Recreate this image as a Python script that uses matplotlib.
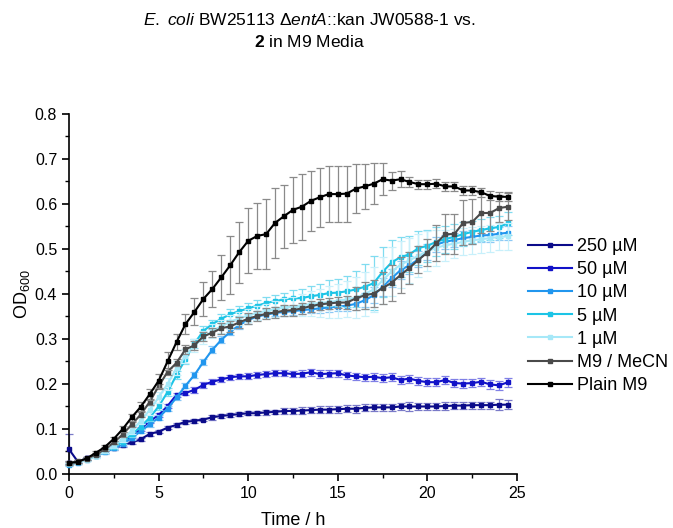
import numpy as np
import matplotlib
matplotlib.use('Agg')
import matplotlib.pyplot as plt
from matplotlib.ticker import MultipleLocator

plt.rcParams['font.family'] = ['Liberation Sans', 'DejaVu Sans']
plt.rcParams['mathtext.fontset'] = 'custom'
plt.rcParams['mathtext.rm'] = 'Liberation Sans'
plt.rcParams['mathtext.it'] = 'Liberation Sans:italic'
plt.rcParams['mathtext.bf'] = 'Liberation Sans:bold'

# time points (h)
time = np.arange(0, 24.51, 0.5)

labels = ['250 µM', '50 µM', '10 µM', '5 µM', '1 µM', 'M9 / MeCN', 'Plain M9']
colors = ['#0b0b8a', '#1212c8', '#2196ee', '#1cc4e6', '#a6e8f8', '#4a4a4a', '#000000']
err_colors = ['#7a7ac8', '#8080e6', '#8cc8f5', '#80dcf0', '#c8f0fb', '#8a8a8a', '#8a8a8a']

od_250 = [0.055, 0.027, 0.035, 0.042, 0.050, 0.057, 0.064, 0.070, 0.077, 0.089,
          0.094, 0.103, 0.109, 0.116, 0.118, 0.121, 0.126, 0.129, 0.131, 0.133,
          0.135, 0.135, 0.137, 0.138, 0.140, 0.140, 0.141, 0.142, 0.143, 0.143,
          0.144, 0.145, 0.145, 0.147, 0.148, 0.148, 0.148, 0.150, 0.150, 0.150,
          0.150, 0.150, 0.151, 0.152, 0.152, 0.153, 0.153, 0.153, 0.154, 0.154]
err_250 = [0.033, 0.004, 0.003, 0.003, 0.003, 0.003, 0.003, 0.003, 0.004, 0.004,
           0.004, 0.004, 0.004, 0.004, 0.004, 0.004, 0.005, 0.005, 0.005, 0.005,
           0.005, 0.005, 0.005, 0.005, 0.006, 0.006, 0.007, 0.007, 0.007, 0.008,
           0.008, 0.008, 0.009, 0.008, 0.008, 0.008, 0.008, 0.008, 0.009, 0.008,
           0.008, 0.008, 0.008, 0.008, 0.008, 0.008, 0.008, 0.008, 0.012, 0.010]

od_50 = [0.025, 0.027, 0.035, 0.042, 0.050, 0.060, 0.070, 0.085, 0.100, 0.117,
         0.131, 0.151, 0.176, 0.180, 0.187, 0.198, 0.205, 0.210, 0.215, 0.217,
         0.217, 0.220, 0.222, 0.224, 0.224, 0.222, 0.223, 0.226, 0.222, 0.223,
         0.224, 0.219, 0.217, 0.215, 0.216, 0.213, 0.215, 0.209, 0.212, 0.207,
         0.204, 0.204, 0.209, 0.202, 0.201, 0.202, 0.205, 0.199, 0.197, 0.204]
err_50 = [0.003, 0.003, 0.003, 0.003, 0.003, 0.003, 0.003, 0.004, 0.004, 0.004,
          0.005, 0.005, 0.005, 0.005, 0.006, 0.006, 0.006, 0.006, 0.006, 0.006,
          0.007, 0.007, 0.007, 0.007, 0.007, 0.007, 0.007, 0.008, 0.008, 0.008,
          0.008, 0.008, 0.008, 0.008, 0.009, 0.009, 0.009, 0.009, 0.009, 0.009,
          0.009, 0.009, 0.009, 0.009, 0.009, 0.009, 0.009, 0.010, 0.010, 0.010]

od_10 = [0.020, 0.025, 0.032, 0.040, 0.048, 0.057, 0.067, 0.080, 0.095, 0.110,
         0.125, 0.145, 0.170, 0.196, 0.220, 0.249, 0.276, 0.298, 0.316, 0.331,
         0.342, 0.350, 0.354, 0.358, 0.360, 0.362, 0.364, 0.366, 0.368, 0.370,
         0.372, 0.374, 0.378, 0.386, 0.397, 0.416, 0.435, 0.453, 0.464, 0.477,
         0.493, 0.510, 0.516, 0.520, 0.524, 0.527, 0.530, 0.531, 0.534, 0.536]
err_10 = [0.003, 0.003, 0.003, 0.003, 0.003, 0.004, 0.004, 0.004, 0.005, 0.005,
          0.005, 0.006, 0.006, 0.006, 0.007, 0.007, 0.008, 0.008, 0.008, 0.008,
          0.008, 0.008, 0.008, 0.008, 0.008, 0.008, 0.009, 0.009, 0.010, 0.010,
          0.010, 0.012, 0.014, 0.016, 0.018, 0.020, 0.020, 0.020, 0.020, 0.018,
          0.018, 0.016, 0.016, 0.015, 0.015, 0.015, 0.015, 0.015, 0.015, 0.015]

od_5 = [0.022, 0.026, 0.033, 0.040, 0.050, 0.060, 0.072, 0.088, 0.105, 0.125,
        0.150, 0.182, 0.220, 0.255, 0.290, 0.318, 0.333, 0.345, 0.355, 0.362,
        0.368, 0.374, 0.380, 0.384, 0.388, 0.390, 0.391, 0.395, 0.398, 0.402,
        0.403, 0.406, 0.410, 0.416, 0.424, 0.449, 0.470, 0.482, 0.488, 0.502,
        0.507, 0.516, 0.522, 0.527, 0.533, 0.538, 0.542, 0.546, 0.549, 0.557]
err_5 = [0.003, 0.003, 0.003, 0.004, 0.004, 0.005, 0.005, 0.006, 0.006, 0.007,
         0.008, 0.008, 0.009, 0.010, 0.010, 0.010, 0.010, 0.010, 0.012, 0.012,
         0.012, 0.012, 0.014, 0.014, 0.015, 0.018, 0.020, 0.022, 0.025, 0.028,
         0.030, 0.035, 0.040, 0.050, 0.060, 0.055, 0.050, 0.045, 0.040, 0.038,
         0.035, 0.032, 0.030, 0.028, 0.026, 0.025, 0.025, 0.025, 0.025, 0.025]

od_1 = [0.022, 0.026, 0.032, 0.040, 0.050, 0.062, 0.078, 0.096, 0.118, 0.142,
        0.170, 0.200, 0.235, 0.262, 0.285, 0.303, 0.318, 0.328, 0.338, 0.346,
        0.352, 0.358, 0.362, 0.366, 0.370, 0.372, 0.375, 0.378, 0.380, 0.382,
        0.385, 0.388, 0.392, 0.400, 0.410, 0.430, 0.450, 0.465, 0.475, 0.485,
        0.495, 0.503, 0.508, 0.512, 0.516, 0.519, 0.522, 0.524, 0.527, 0.528]
err_1 = [0.003, 0.003, 0.003, 0.004, 0.004, 0.005, 0.006, 0.007, 0.008, 0.010,
         0.012, 0.014, 0.015, 0.015, 0.015, 0.015, 0.015, 0.015, 0.015, 0.015,
         0.015, 0.016, 0.016, 0.018, 0.020, 0.022, 0.025, 0.028, 0.032, 0.035,
         0.038, 0.040, 0.045, 0.048, 0.050, 0.052, 0.055, 0.052, 0.050, 0.048,
         0.045, 0.040, 0.035, 0.032, 0.030, 0.030, 0.030, 0.030, 0.030, 0.030]

od_mecn = [0.025, 0.028, 0.034, 0.043, 0.055, 0.070, 0.088, 0.110, 0.132, 0.160,
           0.195, 0.227, 0.247, 0.277, 0.286, 0.306, 0.314, 0.324, 0.328, 0.337,
           0.345, 0.351, 0.356, 0.359, 0.363, 0.364, 0.368, 0.373, 0.377, 0.379,
           0.381, 0.381, 0.390, 0.397, 0.401, 0.413, 0.425, 0.442, 0.458, 0.476,
           0.492, 0.513, 0.533, 0.533, 0.558, 0.560, 0.580, 0.580, 0.591, 0.594]
err_mecn = [0.003, 0.003, 0.003, 0.003, 0.004, 0.004, 0.005, 0.005, 0.005, 0.006,
            0.006, 0.008, 0.008, 0.010, 0.010, 0.010, 0.010, 0.012, 0.012, 0.012,
            0.012, 0.012, 0.012, 0.012, 0.012, 0.012, 0.012, 0.012, 0.012, 0.012,
            0.012, 0.015, 0.025, 0.030, 0.030, 0.035, 0.040, 0.040, 0.035, 0.030,
            0.030, 0.040, 0.045, 0.045, 0.050, 0.050, 0.045, 0.040, 0.030, 0.030]

od_plain = [0.024, 0.027, 0.035, 0.047, 0.060, 0.078, 0.100, 0.126, 0.149, 0.177,
            0.207, 0.250, 0.293, 0.333, 0.360, 0.389, 0.411, 0.437, 0.464, 0.493,
            0.518, 0.529, 0.533, 0.558, 0.573, 0.587, 0.594, 0.607, 0.615, 0.622,
            0.622, 0.623, 0.634, 0.639, 0.645, 0.655, 0.652, 0.655, 0.649, 0.644,
            0.644, 0.645, 0.639, 0.639, 0.630, 0.630, 0.626, 0.618, 0.616, 0.616]
err_plain = [0.003, 0.003, 0.003, 0.003, 0.004, 0.005, 0.006, 0.008, 0.010, 0.012,
             0.015, 0.020, 0.018, 0.022, 0.030, 0.038, 0.040, 0.050, 0.065, 0.068,
             0.072, 0.073, 0.077, 0.077, 0.070, 0.073, 0.073, 0.066, 0.066, 0.062,
             0.062, 0.062, 0.055, 0.050, 0.045, 0.035, 0.020, 0.018, 0.012, 0.010,
             0.010, 0.010, 0.010, 0.010, 0.010, 0.010, 0.010, 0.010, 0.010, 0.010]

series = [od_250, od_50, od_10, od_5, od_1, od_mecn, od_plain]
errors = [err_250, err_50, err_10, err_5, err_1, err_mecn, err_plain]

fig = plt.figure(figsize=(6.73, 5.28), dpi=100)
ax = fig.add_axes([0.1025, 0.1023, 0.6657, 0.6818])

handles = []
for i, (y, e) in enumerate(zip(series, errors)):
    ax.errorbar(time, y, yerr=e, fmt='none', ecolor=err_colors[i], elinewidth=0.9,
                capsize=3, capthick=0.9, zorder=2 + i, clip_on=False)
    h, = ax.plot(time, y, color=colors[i], linewidth=1.5, marker='s', markersize=3.0,
                 label=labels[i], zorder=3 + i, clip_on=False)
    handles.append(h)

ax.set_xlim(0, 25)
ax.set_ylim(0, 0.8)
ax.xaxis.set_major_locator(MultipleLocator(5))
ax.xaxis.set_minor_locator(MultipleLocator(2.5))
ax.yaxis.set_major_locator(MultipleLocator(0.1))
ax.yaxis.set_minor_locator(MultipleLocator(0.05))
ax.yaxis.set_major_formatter(matplotlib.ticker.FormatStrFormatter('%.1f'))
for s in ['top', 'right']:
    ax.spines[s].set_visible(False)
for s in ['left', 'bottom']:
    ax.spines[s].set_linewidth(1.2)
ax.tick_params(which='major', direction='out', length=5, width=1.2, labelsize=11.5)
ax.tick_params(which='minor', direction='out', length=3, width=1.0)

ax.set_xlabel('Time / h', fontsize=13, labelpad=8)
ax.set_ylabel('OD$_{600}$', fontsize=13, labelpad=2)

ax.legend(handles=handles, loc='upper left', bbox_to_anchor=(1.025, 0.655), frameon=False,
          fontsize=13, handlelength=2.4, handletextpad=0.28, labelspacing=0.34,
          borderaxespad=0, borderpad=0)

fig.text(0.46, 0.962, r'$\mathit{E.\ coli}$ BW25113 $\Delta\mathit{entA}$::kan JW0588-1 vs.',
         ha='center', va='center', fontsize=12.5)
fig.text(0.46, 0.92, r'$\mathbf{2}$ in M9 Media', ha='center', va='center', fontsize=12.5)

fig.savefig('out.png', dpi=100)
